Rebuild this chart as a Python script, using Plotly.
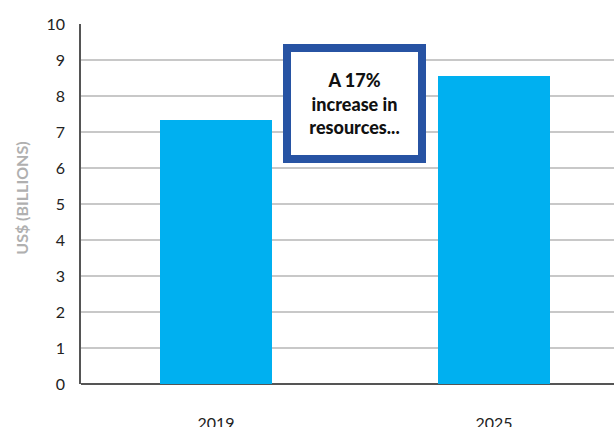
import plotly.graph_objects as go

years = ["2019", "2025"]
resources = [7.33, 8.56]
y_ticks = list(range(0, 11))
callout_text = "A 17%<br>increase in<br>resources..."
y_title = "US$ (BILLIONS)"

xpos = list(range(len(years)))

fig = go.Figure()
fig.add_trace(go.Bar(
    x=xpos, y=resources, width=0.403,
    marker=dict(color="#00B0F0", line=dict(width=0)),
    hoverinfo="skip",
))

fig.add_annotation(
    x=0.498, y=7.79, xref="x", yref="y",
    text=callout_text,
    showarrow=False,
    font=dict(family="Lato", size=18, color="#111111", weight=900),
    align="center",
    bgcolor="white", bordercolor="#2753A3", borderwidth=8, borderpad=0,
    width=127, height=103,
)

fig.add_annotation(
    x=-0.111, y=0.517, xref="paper", yref="paper",
    text="<b>" + y_title + "</b>", textangle=-90,
    showarrow=False, xanchor="center", yanchor="middle",
    font=dict(family="Lato", size=16, color="#B0B0B0"),
)

fig.update_layout(
    width=614, height=427,
    margin=dict(l=81, r=0, t=24, b=43),
    plot_bgcolor="white", paper_bgcolor="white",
    showlegend=False,
    bargap=0,
)
fig.update_xaxes(
    range=[-0.4856, 1.4317], automargin=False,
    tickvals=xpos, ticktext=years,
    ticks="outside", ticklen=25, tickcolor="rgba(0,0,0,0)",
    tickfont=dict(family="Lato", size=16, color="#222222"),
    showgrid=False, zeroline=False, showline=False,
)
fig.update_yaxes(
    range=[0, 10], tickvals=y_ticks, automargin=False,
    ticks="outside", ticklen=11, tickcolor="rgba(0,0,0,0)",
    tickfont=dict(family="Lato", size=16, color="#222222"),
    showgrid=True, gridcolor="#C8C8C8", gridwidth=2,
    zeroline=True, zerolinecolor="#555555", zerolinewidth=2,
    showline=True, linecolor="#555555", linewidth=1.5,
)

fig.write_html(
    "out.html",
    config={"displayModeBar": False},
    post_script="document.body.style.margin='0';document.body.style.overflow='hidden';",
)
